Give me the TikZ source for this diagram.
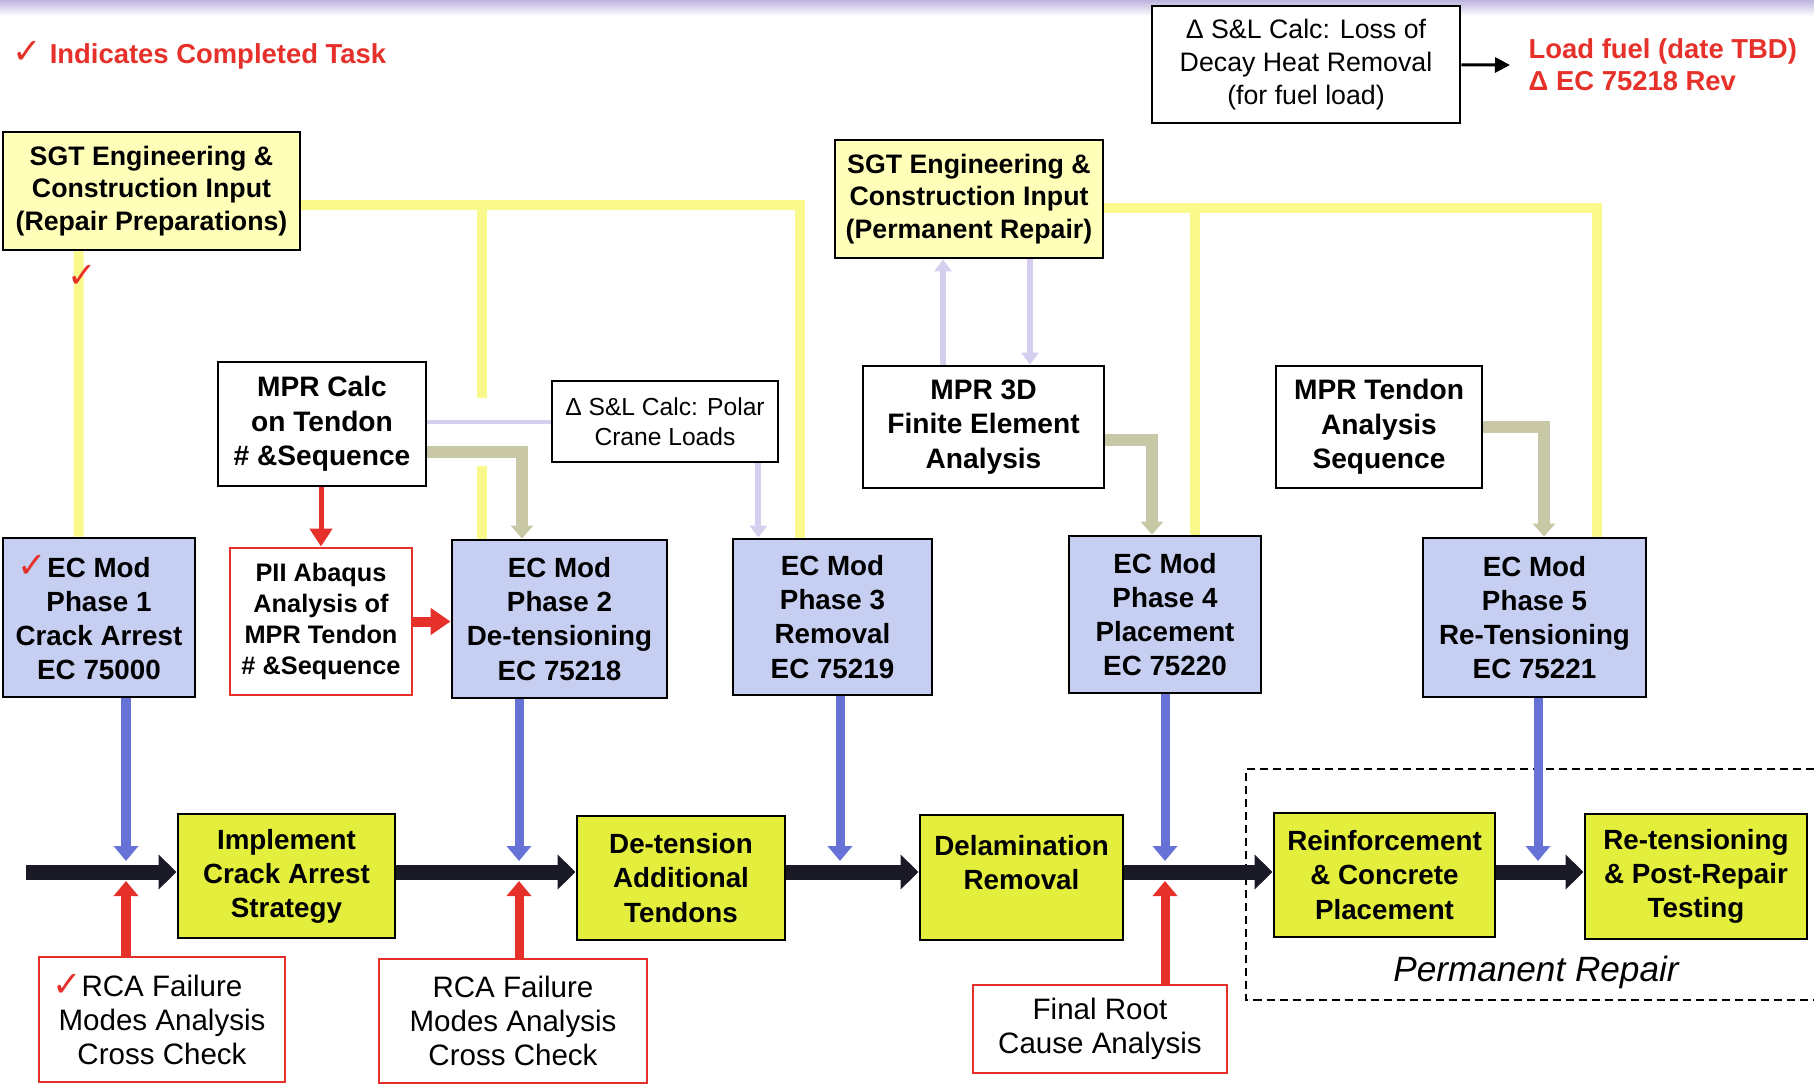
\documentclass[tikz,border=0pt]{standalone}
\usepackage{fontspec}
\setmainfont{Liberation Sans}
\newfontfamily\symfont{DejaVu Sans}
\usepackage{tikz}
\usetikzlibrary{
    calc,
    arrows.meta
}

\definecolor{flowblack}{RGB}{26,26,38}
\definecolor{sgtfill}{RGB}{255,255,186}
\definecolor{sgtline}{RGB}{250,249,140}
\definecolor{ecfill}{RGB}{198,207,242}
\definecolor{stepfill}{RGB}{228,238,60}
\definecolor{modblue}{RGB}{102,114,214}
\definecolor{alertred}{RGB}{230,48,42}
\definecolor{inputgray}{RGB}{200,200,166}
\definecolor{calclav}{RGB}{214,206,238}
\definecolor{bandlav}{RGB}{190,180,222}

\newcommand{\donetick}{\textcolor{alertred}{\symfont\fontsize{10}{10}\selectfont ✓}}
\newcommand{\boldsz}{\bfseries\fontsize{7.9}{9.7}\selectfont}

\tikzset{
    every node/.style={align=center, inner sep=0pt},
    dims/.style 2 args={minimum width=#1cm, minimum height=#2cm},
    sgtbox/.style={draw, line width=0.8pt, fill=sgtfill, font=\bfseries\fontsize{7.6}{9.3}\selectfont},
    calcbox/.style={draw, line width=0.7pt, fill=white, font=\fontsize{7.6}{9.3}\selectfont},
    mprbox/.style={draw, line width=0.8pt, fill=white, font=\bfseries\fontsize{8}{9.8}\selectfont},
    ecbox/.style={draw, line width=0.8pt, fill=ecfill, font=\boldsz},
    stepbox/.style={draw, line width=0.8pt, fill=stepfill, font=\boldsz},
    rcabox/.style={draw=alertred, line width=0.8pt, fill=white, font=\fontsize{8.4}{9.7}\selectfont},
    piibox/.style={draw=alertred, line width=0.8pt, fill=white, font=\bfseries\fontsize{7.2}{8.8}\selectfont},
    redtext/.style={text=alertred, font=\bfseries\fontsize{7.8}{9.2}\selectfont},
    flow/.style={draw=flowblack, line width=0.15cm, -{Triangle[length=0.18cm, width=0.34cm]}},
    modarrow/.style={draw=modblue, line width=0.09cm, -{Triangle[length=0.15cm, width=0.24cm]}},
    redarrow/.style={draw=alertred, line width=0.09cm, -{Triangle[length=0.15cm, width=0.24cm]}},
    grayarrow/.style={draw=inputgray, line width=0.12cm, -{Triangle[length=0.13cm, width=0.22cm]}},
    lavarrow/.style={draw=calclav, line width=0.06cm, -{Triangle[length=0.12cm, width=0.17cm]}},
    sgtwire/.style={draw=sgtline, line width=0.1cm}
}

\begin{document}
\begin{tikzpicture}[x=0.01cm, y=-0.01cm]
        \useasboundingbox (0,0) rectangle (1814,1084);
        \shade[top color=bandlav, bottom color=white] (0,0) rectangle (1814,16);

        \draw (12,55) node[anchor=west, redtext](legend){\donetick\ Indicates Completed Task};

        \draw (1306,64.5) node[calcbox, dims={3.08}{1.17}](decay){Δ S\&L Calc: Loss of\\Decay Heat Removal\\(for fuel load)};
        \draw (1510,65) node[anchor=west, inner xsep=0.18cm, align=left, redtext](fuel){Load fuel (date TBD)\\Δ EC 75218 Rev};
        \draw[line width=0.03cm, -{Triangle[length=0.15cm, width=0.15cm]}] (decay) to (fuel.west);

        % engineering input
        \draw (151.5,191) node[sgtbox, dims={2.97}{1.18}](sgtprep){SGT Engineering \&\\Construction Input\\(Repair Preparations)};
        \draw (969,199) node[sgtbox, dims={2.68}{1.18}](sgtperm){SGT Engineering \&\\Construction Input\\(Permanent Repair)};

        \draw (322,424) node[mprbox, dims={2.08}{1.24}](mprcalc){MPR Calc\\on Tendon\\\# \&Sequence};
        \draw (665,421.5) node[calcbox, dims={2.26}{0.81}, font=\fontsize{7}{8.5}\selectfont](polar){Δ S\&L Calc: Polar\\Crane Loads};
        \draw (983.5,427) node[mprbox, dims={2.41}{1.22}](mpr3d){MPR 3D\\Finite Element\\Analysis};
        \draw (1379,427) node[mprbox, dims={2.06}{1.22}](mprseq){MPR Tendon\\Analysis\\Sequence};
        \draw (321,621.5) node[piibox, dims={1.82}{1.47}](pii){PII Abaqus\\Analysis of\\MPR Tendon\\\# \&Sequence};

        % engineering changes
        \draw (99,617.5) node[ecbox, dims={1.92}{1.59}](ph1){\llap{\donetick}EC Mod\\Phase 1\\Crack Arrest\\EC 75000};
        \draw (559.5,619) node[ecbox, dims={2.15}{1.58}](ph2){EC Mod\\Phase 2\\De-tensioning\\EC 75218};
        \draw (832.5,617) node[ecbox, dims={1.99}{1.56}](ph3){EC Mod\\Phase 3\\Removal\\EC 75219};
        \draw (1165,614.5) node[ecbox, dims={1.92}{1.57}](ph4){EC Mod\\Phase 4\\Placement\\EC 75220};
        \draw (1534.5,617.5) node[ecbox, dims={2.23}{1.59}](ph5){EC Mod\\Phase 5\\Re-Tensioning\\EC 75221};

        % field work
        \draw (286.5,876) node[stepbox, dims={2.17}{1.24}](impl){Implement\\Crack Arrest\\Strategy};
        \draw (681,878) node[stepbox, dims={2.08}{1.24}](detens){De-tension\\Additional\\Tendons};
        \draw (1021.5,877.5) node[stepbox, dims={2.03}{1.25}](delam){};
        \draw (delam.center) ++(0,-15) node[font=\boldsz](delamtext){Delamination\\Removal};
        \draw (1384.5,875) node[stepbox, dims={2.21}{1.24}](reinf){Reinforcement\\\& Concrete\\Placement};
        \draw (1696,876.5) node[stepbox, dims={2.22}{1.25}](retens){Re-tensioning\\\& Post-Repair\\Testing};

        \draw (162,1019.5) node[rcabox, dims={2.46}{1.25}](rca1){\llap{\donetick}RCA Failure\\Modes Analysis\\Cross Check};
        \draw (513,1021) node[rcabox, dims={2.68}{1.24}](rca2){RCA Failure\\Modes Analysis\\Cross Check};
        \draw (1100,1029) node[rcabox, dims={2.54}{0.88}](rootcause){Final Root\\Cause Analysis};

        \draw[dashed, dash pattern=on 0.08cm off 0.05cm, line width=0.7pt] (1814,769) -| (1246,1000) -- (1814,1000);
        \draw (1536,972) node[font=\itshape\fontsize{10}{12}\selectfont](permlabel){Permanent Repair};

        % yellow input wires
        \coordinate (wireA) at ($(sgtprep.east)+(0,14)$);
        \coordinate (tap2) at ($(ph2.north)+(-77.5,0)$);
        \draw[sgtwire] ($(sgtprep.south west)+(77,0)$) to ($(ph1.north west)+(77,0)$);
        \draw[sgtwire] (wireA) -| ($(ph3.north)+(-32.5,0)$);
        \draw[sgtwire] (tap2 |- wireA) -- ++(0,193);
        \draw[sgtwire] (tap2) -- ++(0,-73);
        \draw (82,276) node(prepdone){\donetick};

        \coordinate (wireB) at ($(sgtperm.east)+(0,9)$);
        \coordinate (tap4) at ($(ph4.north)+(30,0)$);
        \draw[sgtwire] (wireB) -| ($(ph5.north)+(62.5,0)$);
        \draw[sgtwire] (tap4 |- wireB) to (tap4);

        % analysis inputs
        \draw[draw=alertred, line width=0.05cm, -{Triangle[length=0.18cm, width=0.22cm]}] (pii.north |- mprcalc.south) to (pii.north);
        \draw[draw=alertred, line width=0.1cm, -{Triangle[length=0.2cm, width=0.26cm]}] (pii.east) to (pii.east -| ph2.west);
        \draw[draw=calclav, line width=0.04cm] (mprcalc.east |- polar.west) to (polar.west);
        \draw[grayarrow] ($(mprcalc.east)+(0,28)$) -| ($(ph2.north)+(-37.5,0)$);
        \draw[lavarrow] ($(polar.south east)+(-21,0)$) coordinate(polardown) to (polardown |- ph3.north);
        \draw[lavarrow] ($(mpr3d.north)+(-40.5,0)$) coordinate(up3d) to (up3d |- sgtperm.south);
        \draw[lavarrow] (sgtperm.south -| mpr3d.north) ++(46.5,0) coordinate(down3d) to (down3d |- mpr3d.north);
        \draw[grayarrow] ($(mpr3d.east)+(0,13)$) -| ($(ph4.north)+(-13,0)$);
        \draw[grayarrow] (mprseq.east) -| ($(ph5.north)+(9.5,0)$);

        % main sequence
        \coordinate (start) at (26,872);
        \draw[flow] (start) to (start -| impl.west);
        \draw[flow] (impl.east |- start) to (start -| detens.west);
        \draw[flow] (detens.east |- start) to (start -| delam.west);
        \draw[flow] (delam.east |- start) to (start -| reinf.west);
        \draw[flow] (reinf.east |- start) to (start -| retens.west);

        \coordinate (j1) at (126,872);
        \coordinate (j2) at (519,872);
        \coordinate (j3) at (840,872);
        \coordinate (j4) at (1165,872);
        \coordinate (j5) at (1538,872);
        \draw[modarrow] (ph1.south -| j1) to ($(j1)+(0,-11)$);
        \draw[modarrow] (ph2.south -| j2) to ($(j2)+(0,-11)$);
        \draw[modarrow] (ph3.south -| j3) to ($(j3)+(0,-11)$);
        \draw[modarrow] (ph4.south -| j4) to ($(j4)+(0,-11)$);
        \draw[modarrow] (ph5.south -| j5) to ($(j5)+(0,-11)$);

        \draw[redarrow] (rca1.north -| j1) to ($(j1)+(0,9)$);
        \draw[redarrow] (rca2.north -| j2) to ($(j2)+(0,9)$);
        \draw[redarrow] (rootcause.north -| j4) to ($(j4)+(0,9)$);
    \end{tikzpicture}
\end{document}
